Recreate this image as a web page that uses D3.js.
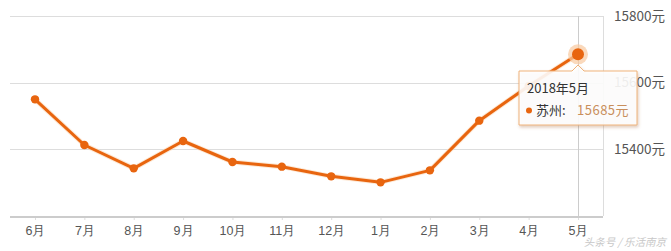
<!DOCTYPE html>
<html lang="zh">
<head>
<meta charset="UTF-8">
<title>苏州房价走势</title>
<style>
    body { margin: 0; background: #fff; }
    svg { display: block; font-family: "Noto Sans CJK SC", "Noto Sans", sans-serif; }
    .grid line { stroke: #ddd; stroke-width: 1px; }
    .axis-label { font-size: 12.5px; fill: #555; }
    .y-label { font-size: 13.5px; fill: #555; }
    .tip-title { font-size: 13px; fill: #333; }
</style>
<script src="https://d3js.org/d3.v7.min.js"></script>
</head>
<body>
<div id="chart"></div>
<script>
    const width = 671;
    const height = 251;

    // data
    const months = ["6月", "7月", "8月", "9月", "10月", "11月", "12月", "1月", "2月", "3月", "4月", "5月"];
    const prices = [15550, 15413, 15343, 15425, 15362, 15348, 15319, 15301, 15337, 15486, 15590, 15685];
    const yTicks = [15400, 15600, 15800];
    const city = "苏州";
    const tipTitle = "2018年5月";

    const lineColor = "#e8650f";

    const svg = d3.select("#chart").append("svg")
        .attr("width", width)
        .attr("height", height);

    const x = d3.scalePoint()
        .domain(months)
        .range([35, 578]);

    const y = d3.scaleLinear()
        .domain([15200, 15800])
        .range([216, 16]);

    const left = 10, right = 603;

    // horizontal grid
    svg.append("g").attr("class", "grid")
        .selectAll("line")
        .data(yTicks)
        .join("line")
        .attr("x1", left).attr("x2", right)
        .attr("y1", d => Math.round(y(d)) + 0.5)
        .attr("y2", d => Math.round(y(d)) + 0.5);

    // right border
    svg.append("line")
        .attr("x1", right + 0.5).attr("x2", right + 0.5)
        .attr("y1", y(15800)).attr("y2", y(15200))
        .attr("stroke", "#ddd");

    // hover cross line at last month
    const last = months.length - 1;
    svg.append("line")
        .attr("x1", x(months[last]) + 0.5).attr("x2", x(months[last]) + 0.5)
        .attr("y1", y(15800)).attr("y2", y(15200) + 4)
        .attr("stroke", "#ccc");

    // x axis
    const xAxis = svg.append("g")
        .attr("transform", `translate(0,${y(15200)})`)
        .call(d3.axisBottom(x).tickSize(4).tickPadding(6));
    xAxis.select(".domain").remove();
    xAxis.selectAll(".tick line").attr("stroke", "#ddd");
    xAxis.selectAll("text")
        .attr("class", "axis-label")
        .attr("font-family", null).attr("font-size", null).attr("fill", null);
    svg.append("line")
        .attr("x1", left).attr("x2", right)
        .attr("y1", y(15200) + 1).attr("y2", y(15200) + 1)
        .attr("stroke", "#ccc").attr("stroke-width", 2);

    // y labels on the right
    svg.append("g")
        .selectAll("text")
        .data(yTicks)
        .join("text")
        .attr("class", "y-label")
        .attr("x", 614)
        .attr("y", d => y(d))
        .attr("dy", "0.35em")
        .text(d => d + "元");

    // line
    const line = d3.line()
        .x((d, i) => x(months[i]))
        .y(d => y(d));

    svg.append("path")
        .datum(prices)
        .attr("fill", "none")
        .attr("stroke", "#fbd3ae")
        .attr("stroke-width", 5)
        .attr("opacity", 0.5)
        .attr("d", line);

    svg.append("path")
        .datum(prices)
        .attr("fill", "none")
        .attr("stroke", lineColor)
        .attr("stroke-width", 3)
        .attr("stroke-linejoin", "round")
        .attr("d", line);

    svg.append("g")
        .selectAll("circle")
        .data(prices.slice(0, last))
        .join("circle")
        .attr("cx", (d, i) => x(months[i]))
        .attr("cy", d => y(d))
        .attr("r", 4.2)
        .attr("fill", lineColor);

    // highlighted last point
    const hx = x(months[last]), hy = y(prices[last]);
    svg.append("circle")
        .attr("cx", hx).attr("cy", hy).attr("r", 10)
        .attr("fill", "#f8c9a0").attr("opacity", 0.7);
    svg.append("circle")
        .attr("cx", hx).attr("cy", hy).attr("r", 6)
        .attr("fill", lineColor);

    // tooltip
    const tip = svg.append("g").attr("transform", `translate(${519},${71})`);
    const tw = 118, th = 54, ax = hx - 519;
    const shadow = svg.append("defs").append("filter").attr("id", "sh")
        .attr("x", "-10%").attr("y", "-10%").attr("width", "130%").attr("height", "140%");
    shadow.append("feDropShadow")
        .attr("dx", 1).attr("dy", 2).attr("stdDeviation", 1.5)
        .attr("flood-color", "#a06030").attr("flood-opacity", 0.35);
    tip.append("path")
        .attr("d", `M0,0 H${ax - 6} L${ax},-6 L${ax + 6},0 H${tw} V${th} H0 Z`)
        .attr("fill", "rgba(255,255,255,0.88)")
        .attr("stroke", "#efb27a")
        .attr("stroke-width", 1)
        .attr("filter", "url(#sh)");
    tip.append("text")
        .attr("class", "tip-title")
        .attr("x", 8).attr("y", 22)
        .text(tipTitle);
    tip.append("circle")
        .attr("cx", 10).attr("cy", 39.5).attr("r", 3)
        .attr("fill", lineColor);
    tip.append("text")
        .attr("x", 17).attr("y", 44)
        .attr("font-size", 13).attr("fill", "#333")
        .text(city + ":");
    tip.append("text")
        .attr("x", 58).attr("y", 44)
        .attr("font-size", 13).attr("fill", "#c98f5c")
        .attr("letter-spacing", "0.5px")
        .text(prices[last] + "元");

    // watermark
    svg.append("text")
        .attr("x", 666).attr("y", 246)
        .attr("text-anchor", "end")
        .attr("font-size", 10.5)
        .attr("fill", "#c8c8c8")
        .attr("font-style", "italic")
        .text("头条号 / 乐活南京");
</script>
</body>
</html>
